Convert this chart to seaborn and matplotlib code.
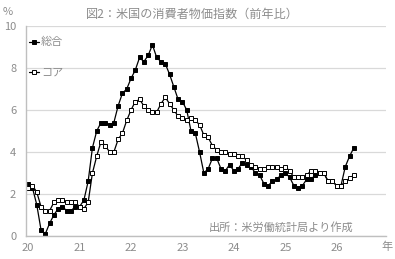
import matplotlib
matplotlib.use("Agg")
import matplotlib.pyplot as plt
import seaborn as sns
import pandas as pd
import numpy as np

# ---- data (monthly, Jan 2020 .. May 2026) ----
headline = [
    2.5, 2.3, 1.5, 0.3, 0.1, 0.6, 1.0, 1.3, 1.4, 1.2, 1.2, 1.4,
    1.4, 1.7, 2.6, 4.2, 5.0, 5.4, 5.4, 5.3, 5.4, 6.2, 6.8, 7.0,
    7.5, 7.9, 8.5, 8.3, 8.6, 9.1, 8.5, 8.3, 8.2, 7.7, 7.1, 6.5,
    6.4, 6.0, 5.0, 4.9, 4.0, 3.0, 3.2, 3.7, 3.7, 3.2, 3.1, 3.4,
    3.1, 3.2, 3.5, 3.4, 3.3, 3.0, 2.9, 2.5, 2.4, 2.6, 2.7, 2.9,
    3.0, 2.8, 2.4, 2.3, 2.4, 2.7, 2.7, 2.9, 3.0, 3.0, 2.6, 2.6,
    2.4, 2.4, 3.3, 3.8, 4.2,
]
core = [
    2.3, 2.4, 2.1, 1.4, 1.2, 1.2, 1.6, 1.7, 1.7, 1.6, 1.6, 1.6,
    1.4, 1.3, 1.6, 3.0, 3.8, 4.5, 4.3, 4.0, 4.0, 4.6, 4.9, 5.5,
    6.0, 6.4, 6.5, 6.2, 6.0, 5.9, 5.9, 6.3, 6.6, 6.3, 6.0, 5.7,
    5.6, 5.5, 5.6, 5.5, 5.3, 4.8, 4.7, 4.3, 4.1, 4.0, 4.0, 3.9,
    3.9, 3.8, 3.8, 3.6, 3.4, 3.3, 3.2, 3.2, 3.3, 3.3, 3.3, 3.2,
    3.3, 3.1, 2.8, 2.8, 2.8, 2.9, 3.1, 3.1, 3.0, 3.0, 2.6, 2.6,
    2.4, 2.4, 2.6, 2.75, 2.9,
]
year_labels = ["20", "21", "22", "23", "24", "25", "26"]
series_names = ["総合", "コア"]
title = "図2：米国の消費者物価指数（前年比）"
source = "出所：米労働統計局より作成"

sns.set_theme(style="white")
plt.rcParams["font.family"] = ["Noto Sans CJK JP", "DejaVu Sans"]

gray = "#8c8c8c"
df = pd.DataFrame({"m": np.arange(len(headline)),
                   series_names[0]: headline,
                   series_names[1]: core})

fig = plt.figure(figsize=(3.95, 2.59), dpi=100)
ax = fig.add_axes([26/395, 1-236/259, 360/395, 210/259])

sns.lineplot(data=df, x="m", y=series_names[0], ax=ax, color="black",
             lw=0.9, marker="s", markersize=3.4, markerfacecolor="black",
             markeredgecolor="black", markeredgewidth=0.7, label=series_names[0])
sns.lineplot(data=df, x="m", y=series_names[1], ax=ax, color="black",
             lw=0.9, marker="s", markersize=3.4, markerfacecolor="white",
             markeredgecolor="black", markeredgewidth=0.7, label=series_names[1])

ax.set_xlim(-0.5, 83.5)
ax.set_ylim(0, 10)
ax.set_xlabel("")
ax.set_ylabel("")
ax.set_yticks([0, 2, 4, 6, 8, 10])
ax.set_yticklabels(["0", "2", "4", "6", "8", "10"])
ax.set_xticks(np.arange(len(year_labels)) * 12)
ax.set_xticklabels(year_labels)
ax.set_xticks(np.arange(0, 7) * 12 + 11.5, minor=True)
ax.tick_params(axis="x", which="major", length=0, pad=5, labelsize=8, labelcolor=gray)
ax.tick_params(axis="x", which="minor", length=3, width=0.8, color="#bfbfbf", direction="out")
ax.tick_params(axis="y", length=0, pad=7, labelsize=8, labelcolor=gray)

ax.grid(axis="y", color="#d9d9d9", lw=0.9)
ax.set_axisbelow(True)
for s in ["top", "right"]:
    ax.spines[s].set_visible(False)
for s in ["left", "bottom"]:
    ax.spines[s].set_color("#bfbfbf")
    ax.spines[s].set_linewidth(1.0)

leg = ax.legend(loc="upper left", bbox_to_anchor=(0.008, 0.947), frameon=False,
                handlelength=0.95, handletextpad=0.15, labelspacing=1.8,
                borderpad=0, borderaxespad=0, fontsize=8)
for t in leg.get_texts():
    t.set_color(gray)

fig.text(0.487, 1-14/259, title, ha="center", va="center", fontsize=8.7, color=gray)
fig.text(8/395, 1-12/259, "%", ha="center", va="center", fontsize=8, color=gray)
fig.text(387/395, 1-247/259, "年", ha="center", va="center", fontsize=8, color=gray)
fig.text(281/395, 1-227/259, source, ha="center", va="center", fontsize=8, color=gray)

fig.savefig("out.png", dpi=100)
